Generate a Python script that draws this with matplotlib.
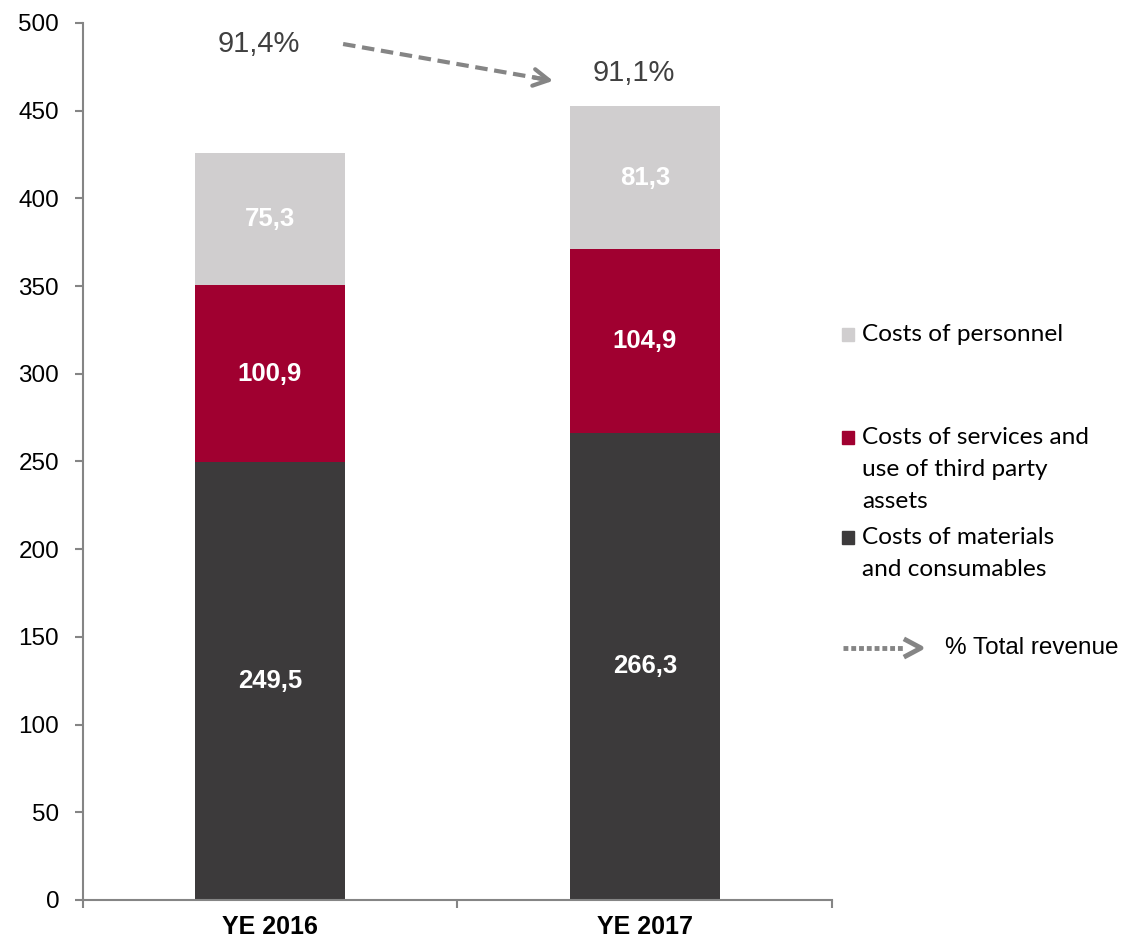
import numpy as np
import matplotlib
matplotlib.use("Agg")
import matplotlib.pyplot as plt
from matplotlib.lines import Line2D

# cost breakdown (EUR m) per year
years = ["YE 2016", "YE 2017"]
materials = [249.5, 266.3]
services = [100.9, 104.9]
personnel = [75.3, 81.3]
revenue_share = ["91,4%", "91,1%"]

c_mat = "#3c3a3b"
c_srv = "#a00030"
c_per = "#d0cecf"
grey = "#858585"

plt.rcParams["font.family"] = ["Liberation Sans", "DejaVu Sans"]

fig = plt.figure(figsize=(11.24, 9.41), dpi=100)
ax = fig.add_axes([0.0734, 0.0436, 0.6672, 0.932])

x = np.arange(len(years))
w = 0.4
mat = np.array(materials)
srv = np.array(services)
per = np.array(personnel)

ax.bar(x, mat, w, color=c_mat)
ax.bar(x, srv, w, bottom=mat, color=c_srv)
ax.bar(x, per, w, bottom=mat + srv, color=c_per)

# values inside the segments
for i in range(len(x)):
    segs = [(mat[i], 0), (srv[i], mat[i]), (per[i], mat[i] + srv[i])]
    for val, base in segs:
        ax.text(x[i], base + val / 2, f"{val:.1f}".replace(".", ","),
                ha="center", va="center", color="white",
                fontsize=18.5, fontweight="bold")

# share of total revenue above the bars
ax.text(-0.03, 488, revenue_share[0], ha="center", va="center",
        fontsize=21, color="#404040")
ax.text(0.97, 471.5, revenue_share[1], ha="center", va="center",
        fontsize=21, color="#404040")
ax.plot([0.195, 0.74], [488, 467.6], color=grey, lw=3,
        linestyle=(0, (3, 1.6)), solid_capstyle="butt")
ax.annotate("", xy=(0.755, 467), xytext=(0.704, 468.9),
            arrowprops=dict(arrowstyle="->,head_length=1.1,head_width=0.6",
                            color=grey, lw=3, shrinkA=0, shrinkB=0))

ax.set_xlim(-0.5, 1.5)
ax.set_ylim(0, 500)
ax.set_yticks(np.arange(0, 501, 50))
ax.tick_params(axis="y", labelsize=17.5, length=5.8, width=1.5, color=grey, pad=11)
ax.set_xticks([-0.5, 0.5, 1.5])
ax.set_xticklabels([])
ax.set_xticks(x, minor=True)
ax.set_xticklabels(years, minor=True, fontsize=18, fontweight="bold")
ax.tick_params(axis="x", which="major", length=6, width=1.5, color=grey)
ax.tick_params(axis="x", which="minor", length=0, pad=11)
for s in ["top", "right"]:
    ax.spines[s].set_visible(False)
for s in ["left", "bottom"]:
    ax.spines[s].set_color(grey)
    ax.spines[s].set_linewidth(1.5)

# legend drawn by hand on the right
W, H = 1124, 941
def fx(px):
    return px / W
def fy(py):
    return 1 - py / H

leg_font = dict(fontsize=17.6, family=["Lato", "DejaVu Sans"], va="center",
                color="black")
items = [
    (c_per, 334, ["Costs of personnel"]),
    (c_srv, 437, ["Costs of services and", "use of third party", "assets"]),
    (c_mat, 537, ["Costs of materials", "and consumables"]),
]
for color, ytop, lines in items:
    fig.patches.append(plt.Rectangle((fx(842), fy(ytop + 7)), 12 / W, 13 / H,
                                     transform=fig.transFigure, color=color))
    for k, line in enumerate(lines):
        fig.text(fx(862), fy(ytop + k * 32), line, **leg_font)

fig.add_artist(Line2D([fx(843), fx(905)], [fy(648), fy(648)],
                      transform=fig.transFigure, color=grey, lw=3.5,
                      linestyle=(0, (1, 0.6))))
fig.add_artist(Line2D([fx(906), fx(921), fx(906)], [fy(640), fy(648), fy(656)],
                      transform=fig.transFigure, color=grey, lw=3.5))
fig.text(fx(945), fy(648), "% Total revenue", fontsize=17.5, va="center",
         color="black")

fig.savefig("out.png", dpi=100)
